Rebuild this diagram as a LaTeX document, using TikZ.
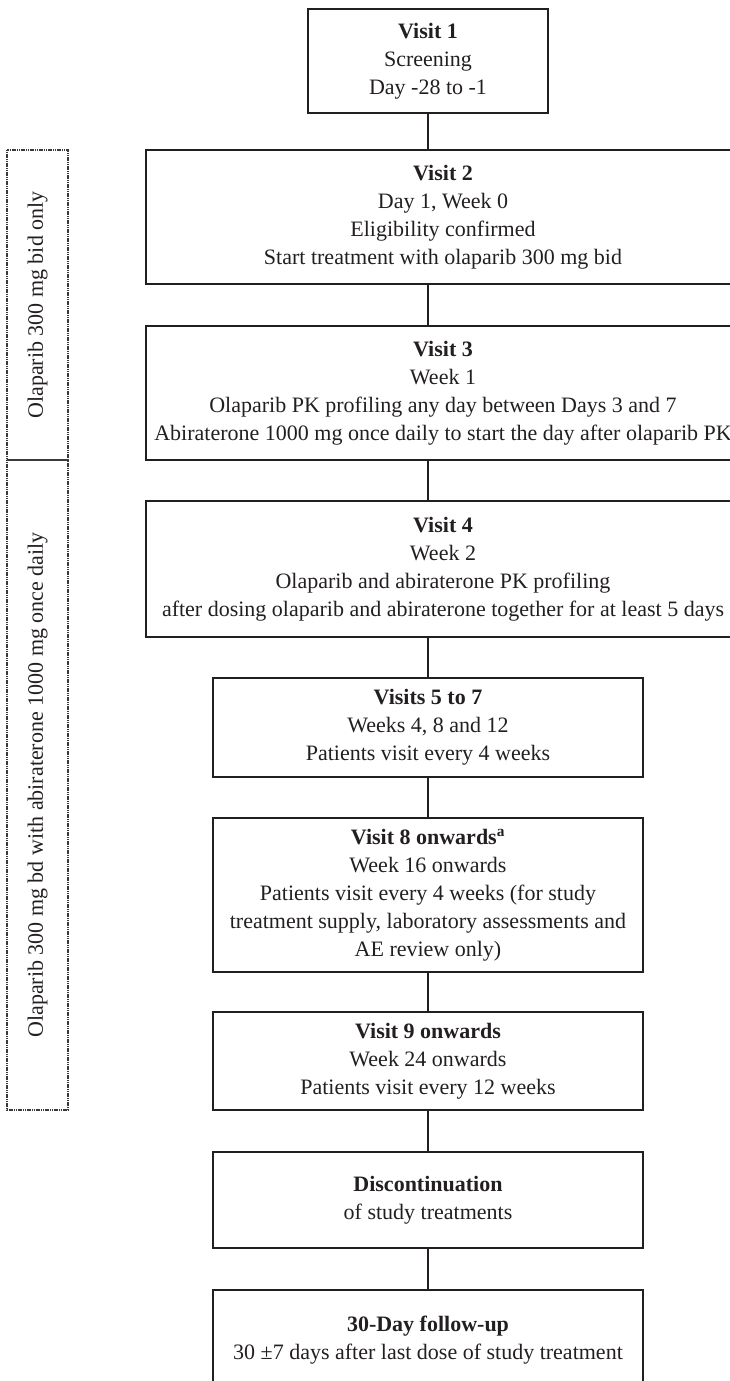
\documentclass[tikz,border=0pt]{standalone}
\usepackage{fontspec}
\setmainfont{Liberation Serif}
\definecolor{linec}{HTML}{231F20}
\definecolor{sidec}{HTML}{3A3A3A}
\begin{document}
\begin{tikzpicture}[x=1pt,y=1pt,
  box/.style={draw=linec, line width=1.8pt, align=center, inner sep=0pt, text=linec,
    font=\fontsize{22}{28}\selectfont},
  sidebox/.style={draw=sidec, line width=1.8pt, dash pattern=on 1.2pt off 0.6pt,
    align=center, inner sep=0pt, text=linec, font=\fontsize{22}{28}\selectfont},
  conn/.style={draw=linec, line width=1.8pt}]
\useasboundingbox (0,0) rectangle (730,-1381);
\clip (0,0) rectangle (730,-1381);
% main column
\node[box, minimum width=240pt, minimum height=104pt] (v1) at (428,-61)
  {\textbf{Visit 1}\\Screening\\Day -28 to -1};
\node[box, minimum width=594pt, minimum height=134pt] (v2) at (443,-217)
  {\textbf{Visit 2}\\Day 1, Week 0\\Eligibility confirmed\\Start treatment with olaparib 300 mg bid};
\node[box, minimum width=594pt, minimum height=134pt] (v3) at (443,-393)
  {\textbf{Visit 3}\\Week 1\\Olaparib PK profiling any day between Days 3 and 7\\Abiraterone 1000 mg once daily to start the day after olaparib PK};
\node[box, minimum width=594pt, minimum height=136pt] (v4) at (443,-569)
  {\textbf{Visit 4}\\Week 2\\Olaparib and abiraterone PK profiling\\after dosing olaparib and abiraterone together for at least 5 days};
\node[box, minimum width=430pt, minimum height=99pt] (v5) at (428,-727.5)
  {\textbf{Visits 5 to 7}\\Weeks 4, 8 and 12\\Patients visit every 4 weeks};
\node[box, minimum width=430pt, minimum height=154pt] (v8) at (428,-895)
  {\textbf{Visit 8 onwards\textsuperscript{a}}\\Week 16 onwards\\Patients visit every 4 weeks (for study\\treatment supply, laboratory assessments and\\AE review only)};
\node[box, minimum width=430pt, minimum height=98pt] (v9) at (428,-1061)
  {\textbf{Visit 9 onwards}\\Week 24 onwards\\Patients visit every 12 weeks};
\node[box, minimum width=430pt, minimum height=96pt] (dc) at (428,-1200)
  {\textbf{Discontinuation}\\of study treatments};
\node[box, minimum width=430pt, minimum height=100pt] (fu) at (428,-1340)
  {\textbf{30-Day follow-up}\\30 ±7 days after last dose of study treatment};
% connectors
\draw[conn] (v1.south) -- (v2.north -| v1.south);
\draw[conn] (v2.south -| v1.south) -- (v3.north -| v1.south);
\draw[conn] (v3.south -| v1.south) -- (v4.north -| v1.south);
\draw[conn] (v4.south -| v1.south) -- (v5.north);
\draw[conn] (v5.south) -- (v8.north);
\draw[conn] (v8.south) -- (v9.north);
\draw[conn] (v9.south) -- (dc.north);
\draw[conn] (dc.south) -- (fu.north);
% side bars
\node[sidebox, rotate=90, minimum width=310pt, minimum height=61pt] (s1) at (37.5,-305)
  {Olaparib 300 mg bid only};
\node[sidebox, rotate=90, minimum width=650pt, minimum height=61pt] (s2) at (37.5,-785)
  {Olaparib 300 mg bd with abiraterone 1000 mg once daily};
\end{tikzpicture}
\end{document}
